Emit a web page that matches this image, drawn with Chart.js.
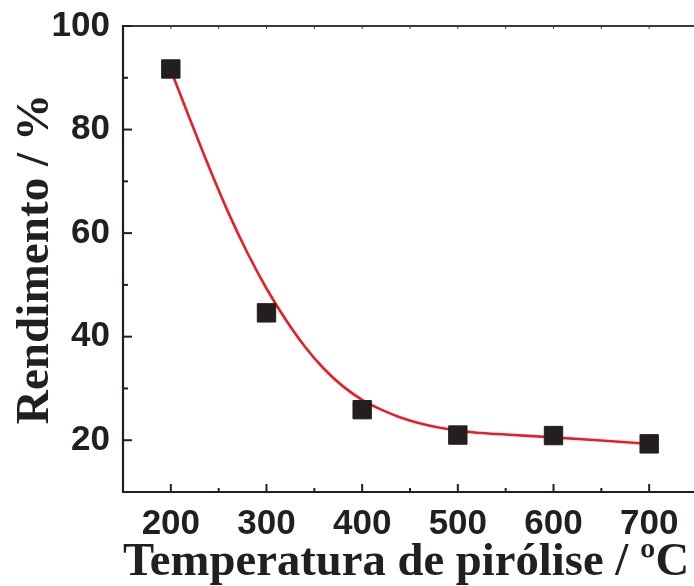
<!DOCTYPE html>
<html>
<head>
<meta charset="utf-8">
<script src="https://cdn.jsdelivr.net/npm/chart.js@4"></script>
<style>
  html, body { margin: 0; padding: 0; background: #ffffff; overflow: hidden; width: 694px; height: 586px; }
  canvas { display: block; }
</style>
</head>
<body>
<canvas id="c" width="711" height="586"></canvas>
<script>
// ---- data ----
const temperatures = [200, 300, 400, 500, 600, 700];
const yieldValues = [91.7, 44.6, 25.9, 21.0, 20.9, 19.3];

const fitX = [200, 220, 240, 260, 280, 300, 320, 340, 360, 380, 400, 420, 440, 460, 480, 500, 520, 550, 600, 650, 700];
const fitY = [91.5, 82.0, 72.7, 64.0, 56.2, 49.3, 43.3, 38.1, 33.8, 30.4, 27.8, 25.9, 24.4, 23.3, 22.45, 21.85, 21.45, 21.1, 20.55, 19.95, 19.3];

const xTicks = [200, 300, 400, 500, 600, 700];
const xMinorTicks = [250, 350, 450, 550, 650];
const yTicks = [20, 40, 60, 80, 100];
const yMinorTicks = [30, 50, 70, 90];

const INK = '#231f20';
const RED = '#ed1c24';

const framePlugin = {
  id: 'frame',
  afterDraw(chart) {
    const ctx = chart.ctx;
    const xs = chart.scales.x, ys = chart.scales.y;
    const a = chart.chartArea;
    ctx.save();
    ctx.lineCap = 'butt';
    // top border
    ctx.lineWidth = 2;
    ctx.strokeStyle = '#3a3a3a';
    ctx.beginPath();
    ctx.moveTo(a.left, a.top); ctx.lineTo(a.right + 20, a.top);
    ctx.stroke();
    // top small ticks
    ctx.lineWidth = 1;
    [...xTicks, ...xMinorTicks].forEach(v => {
      const px = xs.getPixelForValue(v);
      ctx.beginPath(); ctx.moveTo(px, a.top); ctx.lineTo(px, a.top + 3); ctx.stroke();
    });
    ctx.strokeStyle = INK;
    // left axis
    ctx.lineWidth = 2.2;
    ctx.beginPath();
    ctx.moveTo(a.left, a.top - 1); ctx.lineTo(a.left, a.bottom + 1);
    ctx.stroke();
    // bottom axis
    ctx.beginPath();
    ctx.moveTo(a.left - 1, a.bottom); ctx.lineTo(a.right + 20, a.bottom);
    ctx.stroke();
    // y ticks (inward)
    ctx.lineWidth = 2;
    yTicks.forEach(v => {
      const py = ys.getPixelForValue(v);
      ctx.beginPath(); ctx.moveTo(a.left, py); ctx.lineTo(a.left + 9, py); ctx.stroke();
    });
    yMinorTicks.forEach(v => {
      const py = ys.getPixelForValue(v);
      ctx.beginPath(); ctx.moveTo(a.left, py); ctx.lineTo(a.left + 5, py); ctx.stroke();
    });
    // x ticks (inward)
    xTicks.forEach(v => {
      const px = xs.getPixelForValue(v);
      ctx.beginPath(); ctx.moveTo(px, a.bottom); ctx.lineTo(px, a.bottom - 8); ctx.stroke();
    });
    xMinorTicks.forEach(v => {
      const px = xs.getPixelForValue(v);
      ctx.beginPath(); ctx.moveTo(px, a.bottom); ctx.lineTo(px, a.bottom - 4); ctx.stroke();
    });
    ctx.restore();
  }
};

const tickFont = { family: "'Liberation Sans', Arial, sans-serif", weight: 'bold', size: 35 };
const xTitleFont = { family: "'Liberation Serif', 'Times New Roman', serif", weight: 'bold', size: 46.7, lineHeight: 1 };
const yTitleFont = { family: "'Liberation Serif', 'Times New Roman', serif", weight: 'bold', size: 47.2, lineHeight: 1 };

new Chart(document.getElementById('c'), {
  type: 'scatter',
  data: {
    datasets: [
      {
        label: 'Rendimento',
        data: temperatures.map((t, i) => ({ x: t, y: yieldValues[i] })),
        pointStyle: 'rect',
        pointRadius: 13,
        pointHoverRadius: 13,
        backgroundColor: INK,
        borderColor: INK,
        borderWidth: 1,
        showLine: false,
        order: 0
      },
      {
        label: 'Ajuste',
        type: 'line',
        data: fitX.map((t, i) => ({ x: t, y: fitY[i] })),
        borderColor: RED,
        borderWidth: 2.6,
        pointRadius: 0,
        fill: false,
        cubicInterpolationMode: 'monotone',
        order: 1
      }
    ]
  },
  options: {
    responsive: false,
    animation: false,
    devicePixelRatio: 1,
    layout: { padding: { top: 26, right: 4, left: 0, bottom: 0 } },
    plugins: { legend: { display: false }, tooltip: { enabled: false } },
    scales: {
      x: {
        type: 'linear', min: 150, max: 750,
        afterBuildTicks: s => { s.ticks = xTicks.map(v => ({ value: v })); },
        grid: { display: false, drawTicks: false },
        border: { display: false },
        ticks: { font: tickFont, color: INK, padding: 11, maxRotation: 0, autoSkip: false },
        title: { display: true, align: 'start', text: 'Temperatura de pirólise / ºC', font: xTitleFont, color: INK, padding: { top: 0, bottom: 0 } },
        afterFit: s => { s.height = 94; s.paddingLeft = 0; s.paddingRight = 0; }
      },
      y: {
        type: 'linear', min: 10, max: 100,
        afterBuildTicks: s => { s.ticks = yTicks.map(v => ({ value: v })); },
        grid: { display: false, drawTicks: false },
        border: { display: false },
        ticks: { font: tickFont, color: INK, padding: 13, autoSkip: false },
        title: { display: true, text: 'Rendimento / %', font: yTitleFont, color: INK, padding: { top: 12, bottom: 0 } },
        afterFit: s => { s.width = 123; s.paddingTop = 0; s.paddingBottom = 0; }
      }
    }
  },
  plugins: [framePlugin]
});
</script>
</body>
</html>
